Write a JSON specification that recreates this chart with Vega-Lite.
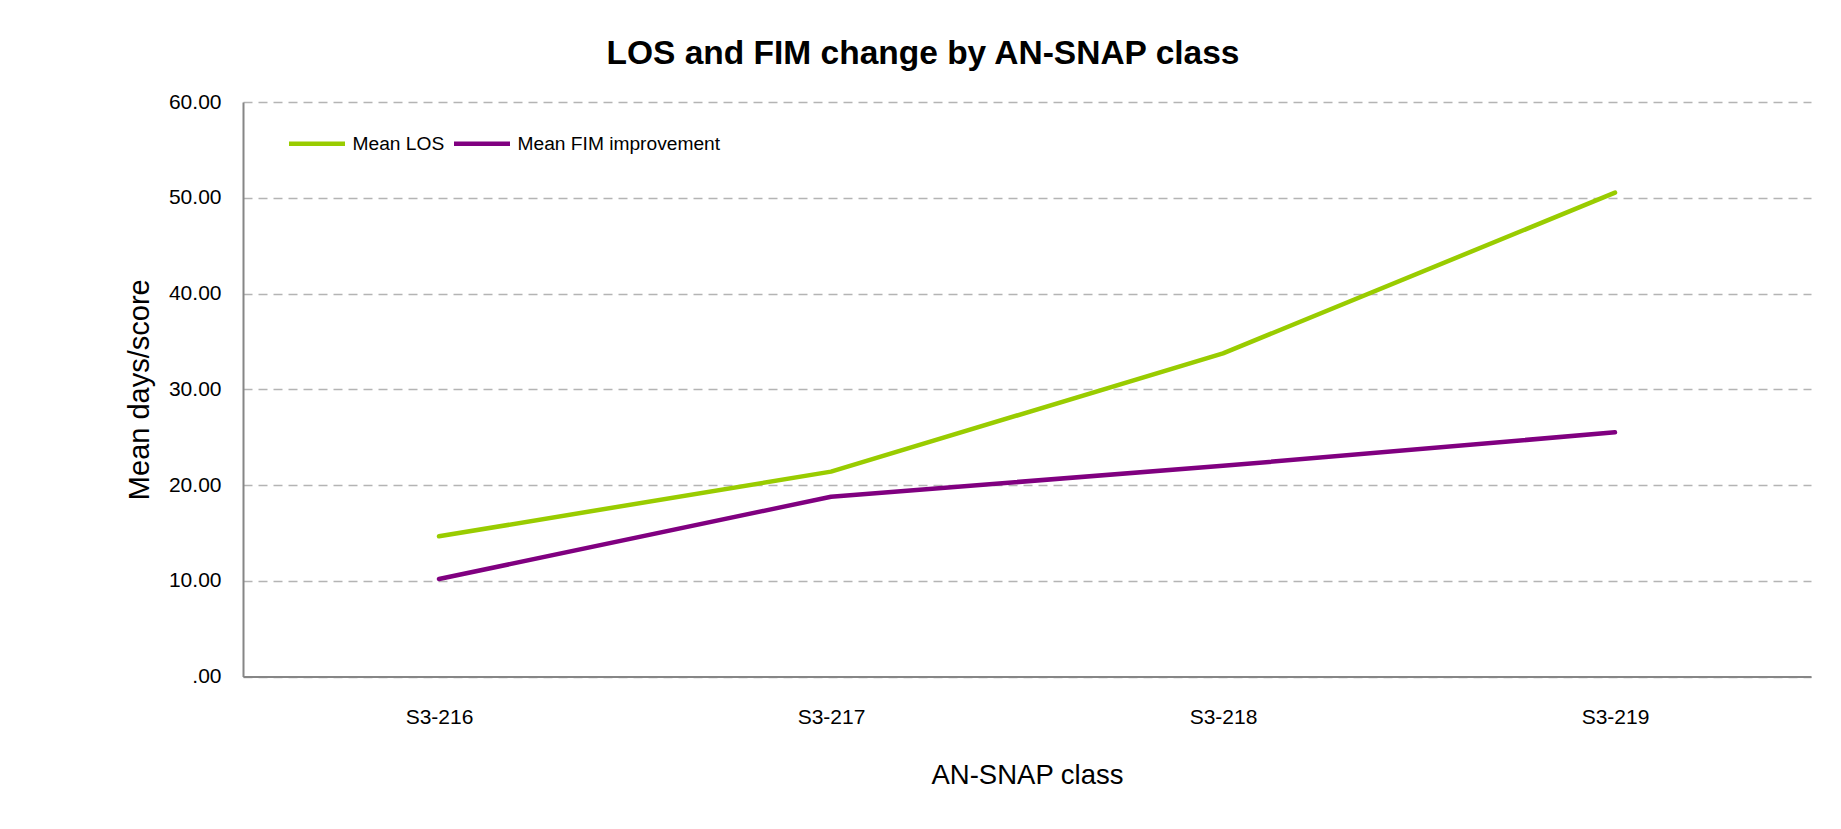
{
  "$schema": "https://vega.github.io/schema/vega-lite/v6.json",
  "width": 1568,
  "height": 574.5,
  "autosize": {"type": "none"},
  "padding": {"left": 243, "top": 102, "right": 30, "bottom": 152},
  "background": "white",
  "title": {
    "text": "LOS and FIM change by AN-SNAP class",
    "font": "Liberation Sans",
    "fontWeight": "bold",
    "fontSize": 33.5,
    "color": "#000000",
    "anchor": "middle",
    "dx": -104,
    "baseline": "alphabetic",
    "offset": -6
  },
  "data": {
    "values": [
      {"class": "S3-216", "series": "Mean LOS", "value": 14.64},
      {"class": "S3-217", "series": "Mean LOS", "value": 21.4},
      {"class": "S3-218", "series": "Mean LOS", "value": 33.75},
      {"class": "S3-219", "series": "Mean LOS", "value": 50.53},
      {"class": "S3-216", "series": "Mean FIM improvement", "value": 10.18},
      {"class": "S3-217", "series": "Mean FIM improvement", "value": 18.78},
      {"class": "S3-218", "series": "Mean FIM improvement", "value": 22.0},
      {"class": "S3-219", "series": "Mean FIM improvement", "value": 25.5}
    ]
  },
  "mark": {"type": "line", "strokeWidth": 4.5, "strokeCap": "round", "strokeJoin": "round"},
  "encoding": {
    "x": {
      "field": "class",
      "type": "ordinal",
      "scale": {"type": "point", "padding": 0.5},
      "axis": {
        "title": "AN-SNAP class",
        "titleFont": "Liberation Sans",
        "titleFontSize": 27.5,
        "titleFontWeight": "normal",
        "titleColor": "#000000",
        "titlePadding": 34,
        "labelFont": "Liberation Sans",
        "labelFontSize": 21,
        "labelColor": "#000000",
        "labelAngle": 0,
        "labelPadding": 30,
        "ticks": false,
        "grid": false,
        "domainColor": "#868686",
        "domainWidth": 2
      }
    },
    "y": {
      "field": "value",
      "type": "quantitative",
      "scale": {"domain": [0, 60], "nice": false},
      "axis": {
        "title": "Mean days/score",
        "titleFont": "Liberation Sans",
        "titleFontSize": 29,
        "titleFontWeight": "normal",
        "titleColor": "#000000",
        "titlePadding": 14,
        "labelFont": "Liberation Sans",
        "labelFontSize": 21,
        "labelColor": "#000000",
        "labelPadding": 22,
        "values": [0, 10, 20, 30, 40, 50, 60],
        "labelExpr": "datum.value == 0 ? '.00' : format(datum.value, '.2f')",
        "ticks": false,
        "grid": true,
        "gridColor": "#B4B4B4",
        "gridWidth": 1.5,
        "gridDash": [9, 6],
        "domainColor": "#868686",
        "domainWidth": 2
      }
    },
    "color": {
      "field": "series",
      "type": "nominal",
      "scale": {"domain": ["Mean LOS", "Mean FIM improvement"], "range": ["#99CC00", "#800080"]},
      "legend": {
        "title": null,
        "orient": "none",
        "legendX": 43.5,
        "legendY": 11,
        "direction": "horizontal",
        "symbolType": "stroke",
        "symbolSize": 3136,
        "symbolStrokeWidth": 4.5,
        "labelFont": "Liberation Sans",
        "labelFontSize": 19.2,
        "labelColor": "#000000",
        "labelLimit": 400,
        "labelOffset": 5,
        "columnPadding": 0,
        "padding": 0
      }
    }
  },
  "config": {
    "view": {"stroke": null}
  }
}
